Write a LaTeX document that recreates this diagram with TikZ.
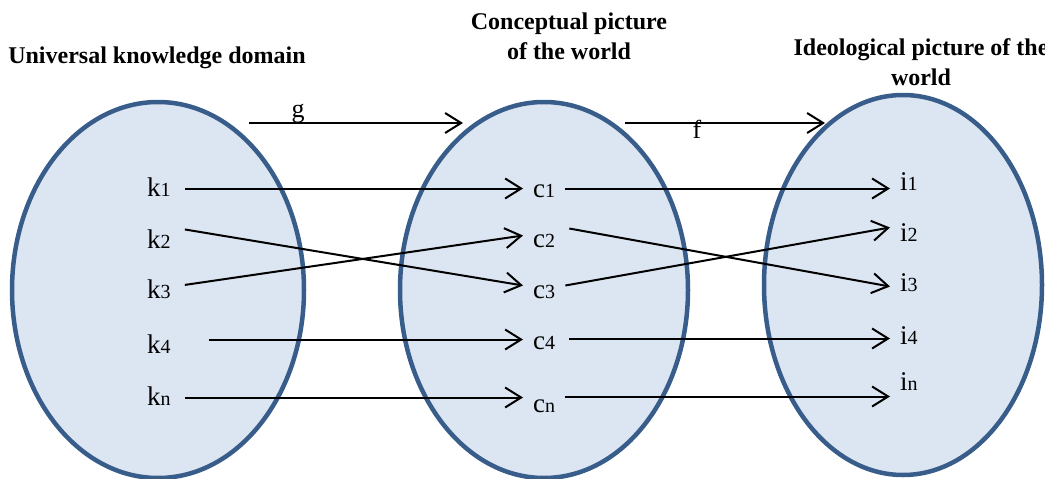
\documentclass[tikz,border=0pt]{standalone}
\usepackage{fontspec}
\setmainfont{Liberation Serif}
\usetikzlibrary{arrows.meta}
\definecolor{ovalline}{RGB}{56,93,138}
\definecolor{ovalfill}{RGB}{220,230,242}
\newcommand{\lowdig}[1]{{\fontsize{20}{22}\selectfont #1}}
\begin{document}
\begin{tikzpicture}[x=1pt, y=-1pt,
    oval/.style={draw=ovalline, line width=4.5pt, fill=ovalfill},
    head/.style={font=\bfseries\fontsize{24}{30}\selectfont, align=center},
    elem/.style={font=\fontsize{27}{30}\selectfont, anchor=base west, inner xsep=10pt, inner ysep=2pt, text height=17pt, text depth=0pt},
    mapto/.style={-{Straight Barb[length=16pt,width=20pt]}, line width=2pt}]
  \useasboundingbox (0,0) rectangle (1045,479);

  % the three sets
  \draw[oval] (158,290) ellipse [x radius=146pt, y radius=188pt];
  \draw[oval] (544,290) ellipse [x radius=144pt, y radius=188pt];
  \draw[oval] (903,285) ellipse [x radius=139pt, y radius=190pt];

  % titles
  \node[head, anchor=base] (udom) at (157,63) {Universal knowledge domain};
  \node[head] (cpic) at (569,36) {Conceptual picture\\of the world};
  \node[head] (ipic) at (921,62) {Ideological picture of the\\world};

  % elements
  \node[elem] (k1) at (137,196) {k\lowdig{1}};
  \node[elem] (k2) at (137,248) {k\lowdig{2}};
  \node[elem] (k3) at (137,298) {k\lowdig{3}};
  \node[elem] (k4) at (137,353) {k\lowdig{4}};
  \node[elem] (k5) at (137,405) {k\lowdig{n}};

  \node[elem] (c1) at (523,197) {c\lowdig{1}};
  \node[elem] (c2) at (523,247) {c\lowdig{2}};
  \node[elem] (c3) at (523,298) {c\lowdig{3}};
  \node[elem] (c4) at (523,349) {c\lowdig{4}};
  \node[elem] (c5) at (523,412) {c\lowdig{n}};

  \node[elem] (i1) at (890,190) {i\lowdig{1}};
  \node[elem] (i2) at (890,241) {i\lowdig{2}};
  \node[elem] (i3) at (890,291) {i\lowdig{3}};
  \node[elem] (i4) at (890,344) {i\lowdig{4}};
  \node[elem] (i5) at (890,390) {i\lowdig{n}};

  % mapping g
  \coordinate (gtail) at (249,123);
  \coordinate (ghead) at (463,123);
  \draw[mapto] (gtail) -- (ghead);
  \node[font=\fontsize{26}{30}\selectfont, anchor=base] (glab) at (298,117) {g};

  \draw[mapto, shorten <=4pt] ([yshift=-1pt]k1.east) -- ([yshift=-1pt]k1.east -| c1.west);
  \draw[mapto, shorten <=4pt] (k2.north east) -- ([yshift=4pt]c3.west);
  \draw[mapto, shorten <=4pt] ([yshift=4pt]k3.east) -- ([yshift=3pt]c2.west);
  \draw[mapto, shorten <=28pt] ([yshift=5pt]k4.east) -- ([yshift=5pt]k4.east -| c4.west);
  \draw[mapto, shorten <=4pt] ([yshift=-1pt]k5.east) -- ([yshift=-1pt]k5.east -| c5.west);

  % mapping f
  \coordinate (ftail) at (625,123);
  \coordinate (fhead) at (825,123);
  \draw[mapto] (ftail) -- (fhead);
  \node[font=\fontsize{26}{30}\selectfont, anchor=base] (flab) at (697,138) {f};

  \draw[mapto] (c1.east) -- (c1.east -| i1.west);
  \draw[mapto, shorten <=4pt] (c2.north east) -- ([yshift=-4pt]i3.west);
  \draw[mapto] ([yshift=4pt]c3.east) -- ([yshift=5pt]i2.west);
  \draw[mapto, shorten <=4pt] ([yshift=2pt]c4.east) -- ([yshift=2pt]c4.east -| i4.west);
  \draw[mapto] ([yshift=7pt]c5.east) -- ([yshift=7pt]c5.east -| i5.west);
\end{tikzpicture}
\end{document}
